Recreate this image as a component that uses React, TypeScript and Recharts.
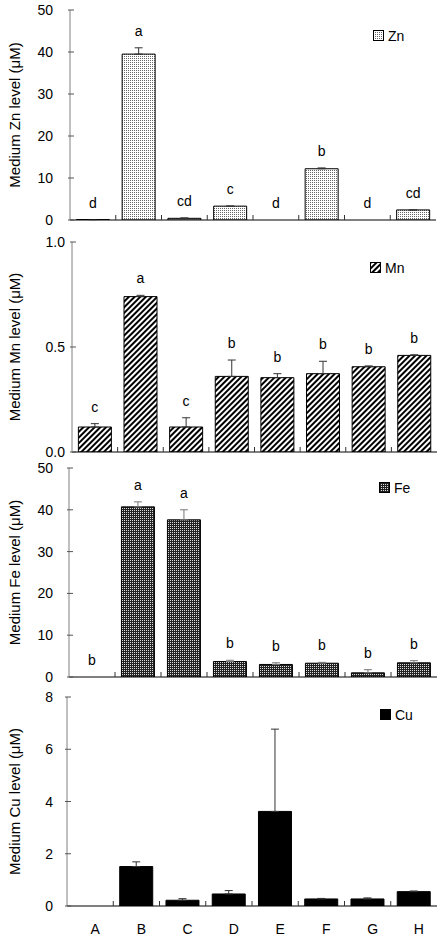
import React from "react";
import {
  ComposedChart,
  Bar,
  Scatter,
  XAxis,
  YAxis,
  ErrorBar,
  ReferenceArea,
} from "recharts";

const categories = ["A", "B", "C", "D", "E", "F", "G", "H"];

const znValues = [0.1, 39.5, 0.4, 3.3, 0, 12.2, 0, 2.4];
const znErrors = [0, 1.5, 0.1, 0, 0, 0.2, 0, 0];
const znLetters = ["d", "a", "cd", "c", "d", "b", "d", "cd"];
const znTicks = [0, 10, 20, 30, 40, 50];

const mnValues = [0.119, 0.74, 0.119, 0.36, 0.354, 0.373, 0.406, 0.46];
const mnErrors = [0.016, 0.006, 0.044, 0.078, 0.019, 0.059, 0.004, 0.003];
const mnLetters = ["c", "a", "c", "b", "b", "b", "b", "b"];
const mnTicks = [0, 0.5, 1.0];

const feValues = [0, 40.7, 37.6, 3.7, 3.0, 3.3, 1.0, 3.4];
const feErrors = [0, 1.2, 2.4, 0.3, 0.4, 0.2, 0.75, 0.5];
const feLetters = ["b", "a", "a", "b", "b", "b", "b", "b"];
const feTicks = [0, 10, 20, 30, 40, 50];

const cuValues = [0, 1.51, 0.22, 0.46, 3.62, 0.27, 0.27, 0.55];
const cuErrors = [0, 0.18, 0.06, 0.13, 3.15, 0.02, 0.04, 0.025];
const cuTicks = [0, 2, 4, 6, 8];

const FONT = '"Liberation Sans", Arial, sans-serif';
const W = 443;

// fill patterns, prefix keeps ids unique per svg
const Patterns = ({ p }: { p: string }) => (
  <defs>
    <pattern id={`${p}zn`} width="2" height="2" patternUnits="userSpaceOnUse">
      <rect width="2" height="2" fill="#fff" />
      <rect x="0" y="0" width="1" height="1" fill="#666" />
    </pattern>
    <pattern
      id={`${p}mn`}
      width="4"
      height="4"
      patternUnits="userSpaceOnUse"
      patternTransform="rotate(45)"
    >
      <rect width="4" height="4" fill="#fff" />
      <rect x="0" y="0" width="2" height="4" fill="#000" />
    </pattern>
    <pattern id={`${p}fe`} width="2" height="2" patternUnits="userSpaceOnUse">
      <rect width="2" height="2" fill="#222" />
      <rect x="0" y="0" width="1" height="1" fill="#ddd" />
    </pattern>
  </defs>
);

interface PanelProps {
  id: string;
  top: number;
  height: number;
  left: number;
  right: number;
  xHeight: number;
  max: number;
  ticks: number[];
  values: number[];
  errors: number[];
  letters?: string[];
  fill: string;
  errColor: string;
  title: string;
  tickGap: number;
  decimals: number;
  showX?: boolean;
  legend: { x: number; y: number };
}

const Panel: React.FC<PanelProps> = (p) => {
  const data = categories.map((c, i) => ({
    cat: c,
    value: p.values[i],
    err: [0, p.errors[i]],
    top: p.values[i] + p.errors[i],
    letter: p.letters ? p.letters[i] : "",
  }));
  const plotW = W - p.left - p.right;
  const bw = plotW / categories.length;

  const YTick = (t: any) => (
    <g>
      <text
        x={t.x}
        y={t.y}
        textAnchor="end"
        dominantBaseline="central"
        fontSize={14}
        fontFamily={FONT}
        fill="#000"
      >
        {Number(t.payload.value).toFixed(p.decimals)}
      </text>
      <line
        x1={t.x + p.tickGap - 2}
        x2={t.x + p.tickGap + 4}
        y1={t.y}
        y2={t.y}
        stroke="#555"
      />
    </g>
  );

  const XTick = (t: any) => {
    const idx = t.payload.index ?? t.index;
    return (
      <g>
        {idx < categories.length - 1 && (
          <line
            x1={t.x + bw / 2}
            x2={t.x + bw / 2}
            y1={t.y}
            y2={t.y - 5}
            stroke="#333"
          />
        )}
        {p.showX && (
          <text
            x={t.x + 5}
            y={t.y + 28}
            textAnchor="middle"
            fontSize={14}
            fontFamily={FONT}
            fill="#000"
          >
            {t.payload.value}
          </text>
        )}
      </g>
    );
  };

  const Letter = (s: any) => {
    const txt = s.payload ? s.payload.letter : "";
    if (!txt) return <g />;
    return (
      <text
        x={s.cx}
        y={s.cy - 12}
        textAnchor="middle"
        fontSize={14}
        fontFamily={FONT}
        fill="#000"
      >
        {txt}
      </text>
    );
  };

  const Title = (l: any) => {
    const vb = l.viewBox;
    const cy = vb.y + vb.height / 2;
    return (
      <text
        x={14}
        y={cy}
        transform={`rotate(-90, 14, ${cy})`}
        textAnchor="middle"
        dominantBaseline="central"
        fontSize={15}
        fontFamily={FONT}
        fill="#000"
      >
        {p.title}
      </text>
    );
  };

  const fillRef = p.fill.startsWith("#") ? p.fill : `url(#${p.id}${p.fill})`;
  const legendFill = p.fill.startsWith("#")
    ? p.fill
    : `url(#lg${p.id}${p.fill})`;

  return (
    <div style={{ position: "absolute", left: 0, top: p.top }}>
      <ComposedChart
        width={W}
        height={p.height}
        data={data}
        margin={{ top: 10, right: p.right, left: 0, bottom: 0 }}
        barCategoryGap="14%"
      >
        <Patterns p={p.id} />
        <ReferenceArea
          fill="none"
          stroke="#808080"
          strokeWidth={1}
          ifOverflow="visible"
        />
        <XAxis
          dataKey="cat"
          height={p.xHeight}
          tickSize={0}
          tickMargin={0}
          tick={<XTick />}
          axisLine={{ stroke: "#000" }}
          tickLine={false}
          interval={0}
        />
        <YAxis
          width={p.left}
          domain={[0, p.max]}
          ticks={p.ticks}
          tickSize={0}
          tickMargin={p.tickGap}
          tick={<YTick />}
          tickLine={false}
          axisLine={{ stroke: "#808080" }}
          label={{ content: <Title /> }}
          allowDataOverflow
        />
        <Bar
          dataKey="value"
          fill={fillRef}
          stroke="#000"
          strokeWidth={1}
          isAnimationActive={false}
        >
          <ErrorBar
            dataKey="err"
            direction="y"
            width={4}
            stroke={p.errColor}
            strokeWidth={1}
          />
        </Bar>
        {p.letters && (
          <Scatter
            dataKey="top"
            shape={<Letter />}
            isAnimationActive={false}
          />
        )}
      </ComposedChart>
      <div
        style={{
          position: "absolute",
          left: p.legend.x,
          top: p.legend.y,
          display: "flex",
          alignItems: "center",
          fontFamily: FONT,
          fontSize: 14,
          lineHeight: "16px",
        }}
      >
        <svg width={12} height={12} style={{ marginRight: 3 }}>
          <Patterns p={`lg${p.id}`} />
          <rect
            x={0.5}
            y={0.5}
            width={10}
            height={10}
            fill={legendFill}
            stroke="#000"
          />
        </svg>
        <span>{p.title.split(" ")[1]}</span>
      </div>
    </div>
  );
};

export default function App() {
  return (
    <div
      style={{
        position: "absolute",
        left: 0,
        top: 0,
        width: W,
        height: 938,
        background: "#fff",
      }}
    >
      <Panel
        id="a"
        top={0}
        height={232}
        left={70}
        right={7}
        xHeight={12}
        max={50}
        ticks={znTicks}
        values={znValues}
        errors={znErrors}
        letters={znLetters}
        fill="zn"
        errColor="#333"
        title="Medium Zn level (μM)"
        tickGap={17}
        decimals={0}
        legend={{ x: 373, y: 28 }}
      />
      <Panel
        id="b"
        top={232}
        height={232}
        left={72}
        right={6}
        xHeight={12}
        max={1}
        ticks={mnTicks}
        values={mnValues}
        errors={mnErrors}
        letters={mnLetters}
        fill="mn"
        errColor="#333"
        title="Medium Mn level (μM)"
        tickGap={7}
        decimals={1}
        legend={{ x: 370, y: 28 }}
      />
      <Panel
        id="c"
        top={458}
        height={231}
        left={69}
        right={6}
        xHeight={12}
        max={50}
        ticks={feTicks}
        values={feValues}
        errors={feErrors}
        letters={feLetters}
        fill="fe"
        errColor="#777"
        title="Medium Fe level (μM)"
        tickGap={16}
        decimals={0}
        legend={{ x: 379, y: 22 }}
      />
      <Panel
        id="d"
        top={687}
        height={251}
        left={67}
        right={6}
        xHeight={32}
        max={8}
        ticks={cuTicks}
        values={cuValues}
        errors={cuErrors}
        fill="#000"
        errColor="#333"
        title="Medium Cu level (μM)"
        tickGap={14}
        decimals={0}
        showX
        legend={{ x: 380, y: 20 }}
      />
    </div>
  );
}
